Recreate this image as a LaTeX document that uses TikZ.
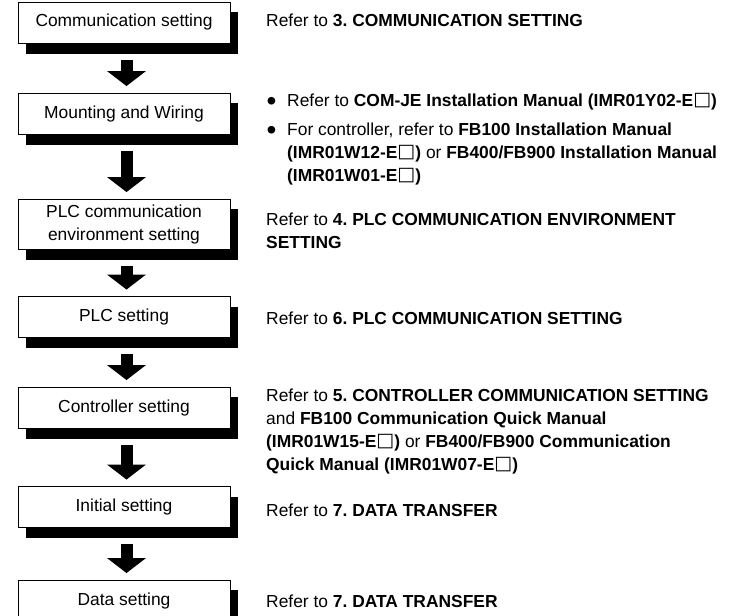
\documentclass[tikz,border=0pt]{standalone}
\usepackage{fontspec}
\setmainfont{Liberation Sans}
\newfontfamily\djv{DejaVu Sans}
\usetikzlibrary{arrows.meta}
\pgfdeclarelayer{bg}
\pgfsetlayers{bg,main}
\frenchspacing
\newcommand{\sq}{\raisebox{0.8pt}{\djv\bfseries\fontsize{19}{19}\selectfont □}}
\newcommand{\bulletmark}{\raisebox{-4pt}{\fontsize{28}{28}\selectfont •}}
\tikzset{
  stepbox/.style={draw=black, line width=0.9pt, fill=white, rectangle, inner sep=0pt,
    minimum width=212pt, minimum height=41pt, align=center},
  boxshadow/.style={fill=black},
  blockarrow/.style={draw=black, line width=12pt,
    -{Triangle[width=39pt,length=15pt,line width=0pt]}},
  reftext/.style={anchor=base west, inner sep=0pt},
  bul/.style={anchor=base west, inner sep=0pt},
}
\begin{document}
\begin{tikzpicture}[x=1pt,y=1pt,font=\fontsize{17.4}{23}\selectfont]
\useasboundingbox (0,0) rectangle (729,-616);
\clip (0,0) rectangle (729,-616);
% boxes
\node[stepbox] (b1) at (124,-22.5) {Communication setting};
\node[stepbox] (b2) at (124,-113.5) {Mounting and Wiring};
\node[stepbox, minimum height=50pt] (b3) at (124,-224) {PLC communication\\environment setting};
\node[stepbox] (b4) at (124,-317) {PLC setting};
\node[stepbox] (b5) at (124,-407.5) {Controller setting};
\node[stepbox] (b6) at (124,-507) {Initial setting};
\node[stepbox] (b7) at (124,-600.5) {Data setting};
% shadows
\begin{pgfonlayer}{bg}
\foreach \b in {b1,b2,b3,b4,b5,b6,b7}{
  \fill[boxshadow] ([shift={(8pt,-10.5pt)}]\b.south west) rectangle ([shift={(8pt,-10.5pt)}]\b.north east);
}
\end{pgfonlayer}
% arrows
\draw[blockarrow] ([xshift=2.5pt,yshift=-16.5pt]b1.south) -- ([xshift=2.5pt,yshift=6.5pt]b2.north);
\draw[blockarrow] ([xshift=2.5pt,yshift=-16.5pt]b2.south) -- ([xshift=2.5pt,yshift=6.5pt]b3.north);
\draw[blockarrow] ([xshift=2.5pt,yshift=-16.5pt]b3.south) -- ([xshift=2.5pt,yshift=6.5pt]b4.north);
\draw[blockarrow] ([xshift=2.5pt,yshift=-16.5pt]b4.south) -- ([xshift=2.5pt,yshift=6.5pt]b5.north);
\draw[blockarrow] ([xshift=2.5pt,yshift=-16.5pt]b5.south) -- ([xshift=2.5pt,yshift=6.5pt]b6.north);
\draw[blockarrow] ([xshift=2.5pt,yshift=-16.5pt]b6.south) -- ([xshift=2.5pt,yshift=6.5pt]b7.north);
% right texts
\node[reftext] (t1) at (266,-26) {Refer to \textbf{3. COMMUNICATION SETTING}};
\node[bul] (u1) at (266.5,-106) {\bulletmark};
\node[reftext] (t2a) at (287,-106) {Refer to \textbf{COM-JE Installation Manual (IMR01Y02-E\sq)}};
\node[bul] (u2) at (266.5,-135) {\bulletmark};
\node[reftext] (t2b) at (287,-135) {For controller, refer to \textbf{FB100 Installation Manual}};
\node[reftext] (t2c) at (287,-158) {\textbf{(IMR01W12-E\sq)} or \textbf{FB400/FB900 Installation Manual}};
\node[reftext] (t2d) at (287,-181) {\textbf{(IMR01W01-E\sq)}};
\node[reftext] (t3a) at (266,-225) {Refer to \textbf{4. PLC COMMUNICATION ENVIRONMENT}};
\node[reftext] (t3b) at (266,-248) {\textbf{SETTING}};
\node[reftext] (t4) at (266,-324) {Refer to \textbf{6. PLC COMMUNICATION SETTING}};
\node[reftext] (t5a) at (266,-401) {Refer to \textbf{5. CONTROLLER COMMUNICATION SETTING}};
\node[reftext] (t5b) at (266,-424) {and \textbf{FB100 Communication Quick Manual}};
\node[reftext] (t5c) at (266,-447) {\textbf{(IMR01W15-E\sq)} or \textbf{FB400/FB900 Communication}};
\node[reftext] (t5d) at (266,-470) {\textbf{Quick Manual (IMR01W07-E\sq)}};
\node[reftext] (t6) at (266,-516) {Refer to \textbf{7. DATA TRANSFER}};
\node[reftext] (t7) at (266,-607) {Refer to \textbf{7. DATA TRANSFER}};
\end{tikzpicture}
\end{document}
